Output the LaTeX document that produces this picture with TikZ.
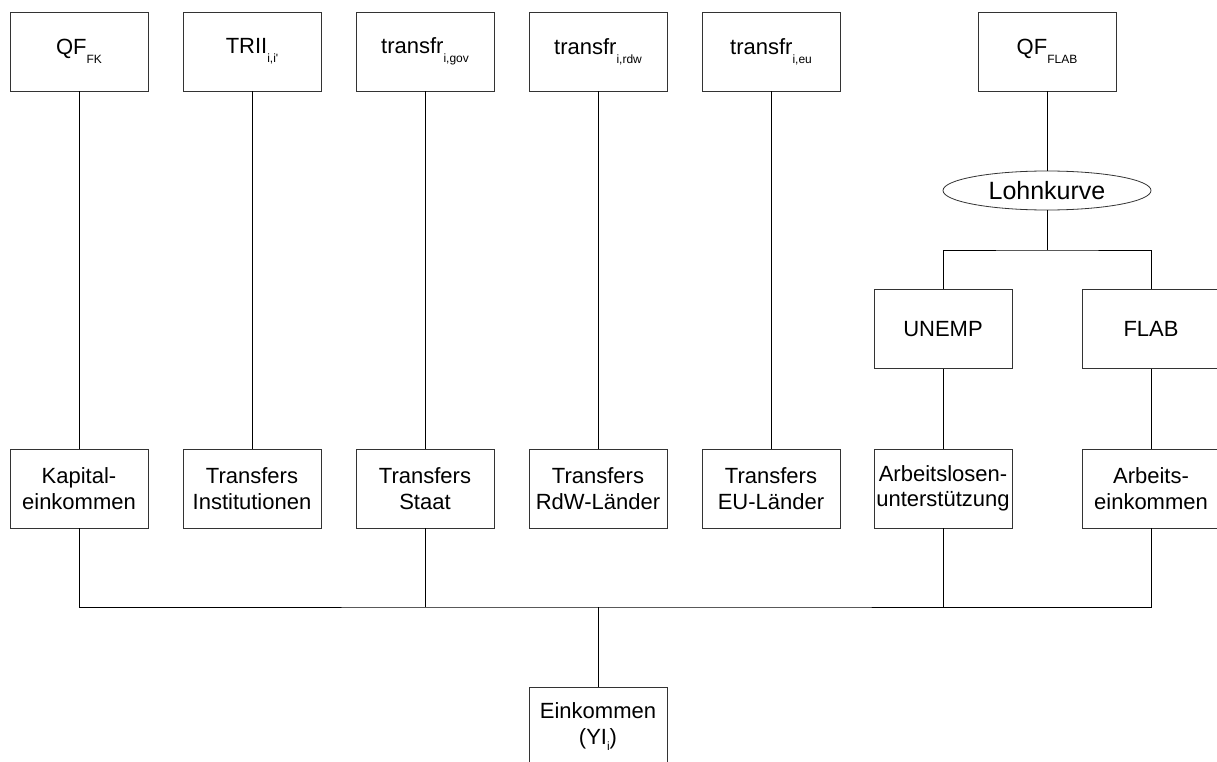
\documentclass[tikz,border=0pt]{standalone}
\usepackage{fontspec}
\setmainfont{Liberation Sans}
\usetikzlibrary{shapes.geometric}
% lowered, smaller index text after a symbol
\newcommand\lowsub[2][-9pt]{\raisebox{#1}{\fontsize{12}{12}\selectfont #2}}
\begin{document}
\begin{tikzpicture}[x=1pt,y=-1pt,
  box/.style={draw=black!80, line width=0.8pt, minimum width=138pt,
    minimum height=79pt, inner sep=0pt, align=center,
    font=\fontsize{22}{25.5}\selectfont},
  oval/.style={ellipse, draw=black!80, line width=0.8pt, minimum width=208pt,
    minimum height=39pt, inner sep=0pt, font=\fontsize{25}{28}\selectfont},
  link/.style={draw=black, line width=0.8pt}]
\clip (0,0) rectangle (1217,762);
\fill[white] (0,0) rectangle (1217,762);

% source variables
\node[box] (qffk)   at (79,51.5)   {QF\lowsub{FK}};
\node[box] (trii)   at (252,51.5)  {TRII\lowsub{i,i\textquotesingle}};
\node[box] (tgov)   at (425,51.5)  {transfr\lowsub{i,gov}};
\node[box] (trdw)   at (598,51.5)  {transfr\lowsub{i,rdw}};
\node[box] (teu)    at (771,51.5)  {transfr\lowsub{i,eu}};
\node[box] (qfflab) at (1047,51.5) {QF\lowsub{FLAB}};

% wage curve and labour split
\node[oval] (lohn)  at (1047,190.5) {Lohnkurve};
\node[box] (unemp)  at (943,329)  {UNEMP};
\node[box] (flab)   at (1151,329) {FLAB};

% income components
\node[box] (kap)   at (79,488.5)   {Kapital-\\einkommen};
\node[box] (inst)  at (252,488.5)  {Transfers\\Institutionen};
\node[box] (staat) at (425,488.5)  {Transfers\\Staat};
\node[box] (rdw)   at (598,488.5)  {Transfers\\RdW-Länder};
\node[box] (eu)    at (771,488.5)  {Transfers\\EU-Länder};
\node[box] (alu)   at (943,488.5)  {Arbeitslosen-\\unterstützung};
\node[box] (arb)   at (1151,488.5) {Arbeits-\\einkommen};

% total income
\node[box] (yi) at (598,726.5) {Einkommen\\(YI\lowsub[-6pt]{i})};

% vertical links
\draw[link] (qffk) -- (kap);
\draw[link] (trii) -- (inst);
\draw[link] (tgov) -- (staat);
\draw[link] (trdw) -- (rdw);
\draw[link] (teu) -- (eu);
\draw[link] (qfflab) -- (lohn);

\coordinate (fork) at (1047,250);
\draw[link] (lohn) -- (fork);
\draw[link] (unemp.north) |- (fork) -| (flab.north);
\draw[link] (unemp) -- (alu);
\draw[link] (flab) -- (arb);

% collecting bus
\coordinate (bus) at (598,607);
\draw[link] (kap.south) |- (bus) -| (arb.south);
\draw[link] (staat.south) -- (staat.south |- bus);
\draw[link] (alu.south) -- (alu.south |- bus);
\draw[link] (bus) -- (yi);
\end{tikzpicture}
\end{document}
